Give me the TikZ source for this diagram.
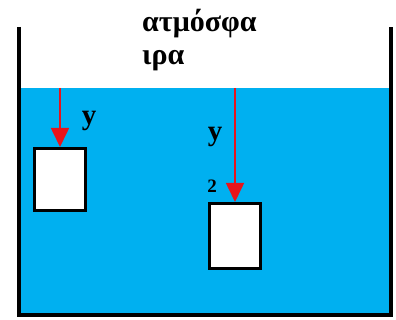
\documentclass[tikz,border=0pt]{standalone}
\usepackage{fontspec}
\setmainfont{Liberation Serif}
\usetikzlibrary{arrows.meta}
\definecolor{water}{HTML}{00B0F0}
\definecolor{arrowred}{HTML}{E8141B}
\begin{document}
\begin{tikzpicture}[x=1pt,y=-1pt,
  block/.style={draw=black,line width=3pt,fill=white,inner sep=0pt,minimum width=51pt,minimum height=62pt},
  depth/.style={draw=arrowred,line width=1.6pt,-{Triangle[length=19pt,width=18pt]}},
  label/.style={font=\bfseries,inner sep=0pt}]
  \useasboundingbox (0,0) rectangle (396,320);
  % liquid in the tank
  \fill[water] (20,88) rectangle (390,313);
  % tank walls
  \draw[line width=4pt,line join=miter] (18.5,27) -- (18.5,315) -- (391,315) -- (391,27);
  % caption above the liquid
  \node[label,anchor=base west,font=\bfseries\fontsize{30}{30}\selectfont] (t1) at (142,32) {ατμόσφα};
  \node[label,anchor=base west,font=\bfseries\fontsize{30}{30}\selectfont] (t2) at (142,65) {ιρα};
  % immersed bodies
  \node[block] (b1) at (60,179.5) {};
  \node[block,minimum height=65pt] (b2) at (235,236) {};
  % depth arrows from the free surface
  \coordinate (s1) at (60,88);
  \coordinate (s2) at (235,88);
  \draw[depth] (s1) -- (b1.north);
  \draw[depth] (s2) -- (b2.north);
  % depth labels
  \node[label,font=\bfseries\fontsize{29}{29}\selectfont] (y1) at (89,121) {y};
  \node[label,font=\bfseries\fontsize{29}{29}\selectfont] (y2) at (215,137) {y};
  \node[label,font=\bfseries\fontsize{19}{19}\selectfont] (n2) at (212,186) {2};
\end{tikzpicture}
\end{document}
